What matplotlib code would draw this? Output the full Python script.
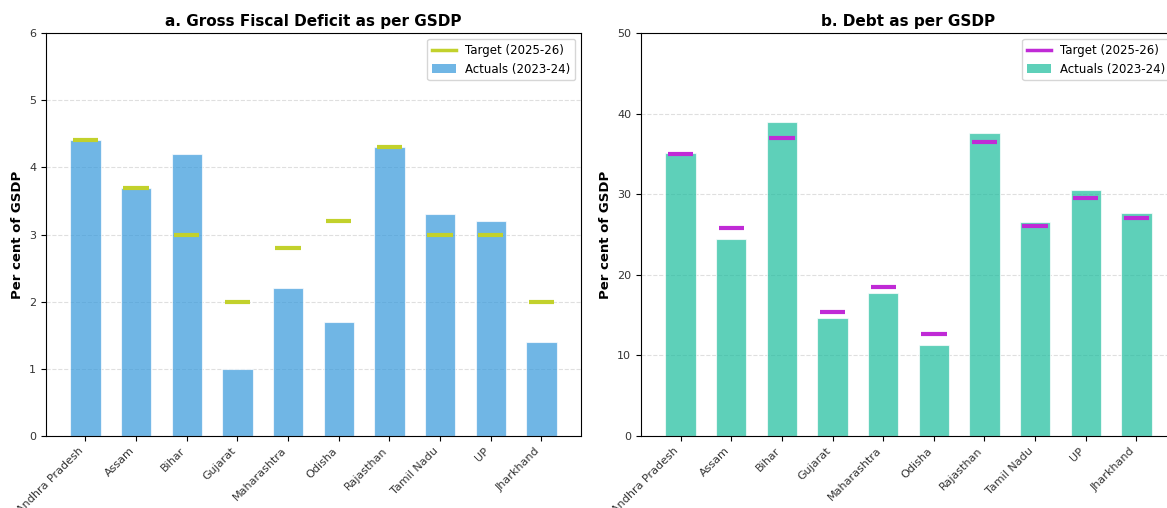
import numpy as np
import matplotlib.pyplot as plt
from matplotlib.lines import Line2D
from matplotlib.patches import Patch

# =========================
# DATA
# =========================
states = ['Andhra Pradesh', 'Assam', 'Bihar', 'Gujarat', 'Maharashtra',
          'Odisha', 'Rajasthan', 'Tamil Nadu', 'UP', 'Jharkhand']

gfd_actual = [4.4, 3.7, 4.2, 1.0, 2.2, 1.7, 4.3, 3.3, 3.2, 1.4]
gfd_target = [4.4, 3.7, 3.0, 2.0, 2.8, 3.2, 4.3, 3.0, 3.0, 2.0]

debt_actual = [35.1, 24.4, 38.9, 14.6, 17.8, 11.3, 37.6, 26.6, 30.5, 27.7]
debt_target = [35.0, 25.8, 37.0, 15.4, 18.5, 12.7, 36.5, 26.1, 29.5, 27.0]

BAR_W = 0.6


def draw_panel(ax, actual, target, bar_color, line_color, title, ylim, yticks):
    x = np.arange(len(states))
    ax.bar(x, actual, width=BAR_W, color=bar_color, alpha=0.7,
           edgecolor='white', linewidth=0.8, zorder=2)
    ax.hlines(target, x - 0.25, x + 0.25, colors=line_color, linewidth=3, zorder=3)

    ax.set_title(title, fontsize=11, fontweight='bold', pad=5)
    ax.set_ylabel('Per cent of GSDP', fontsize=9.5, fontweight='bold')
    ax.set_ylim(*ylim)
    ax.set_yticks(yticks)
    ax.set_xticks(x)
    ax.set_xticklabels(states, rotation=45, ha='right', fontsize=8, color='#333333')
    ax.tick_params(axis='y', labelsize=8, labelcolor='#333333')
    ax.set_xlim(-0.78, len(states) - 0.22)
    ax.grid(axis='y', linestyle='--', alpha=0.4, zorder=0)
    ax.set_axisbelow(True)

    handles = [Line2D([], [], color=line_color, linewidth=2.5),
               Patch(facecolor=bar_color, alpha=0.7)]
    ax.legend(handles, ['Target (2025-26)', 'Actuals (2023-24)'],
              loc='upper right', fontsize=8.5)


fig = plt.figure(figsize=(11.67, 5.08), dpi=100)
ax1 = fig.add_axes([0.0394, 0.1417, 0.4584, 0.7933])
ax2 = fig.add_axes([0.5493, 0.1417, 0.4584, 0.7933])

draw_panel(ax1, gfd_actual, gfd_target, '#3498db', '#c2d12c',
           'a. Gross Fiscal Deficit as per GSDP', (0, 6), range(0, 7))
draw_panel(ax2, debt_actual, debt_target, '#1abc9c', '#c02ad6',
           'b. Debt as per GSDP', (0, 50), range(0, 51, 10))

fig.savefig('out.png', dpi=100)
plt.close(fig)
